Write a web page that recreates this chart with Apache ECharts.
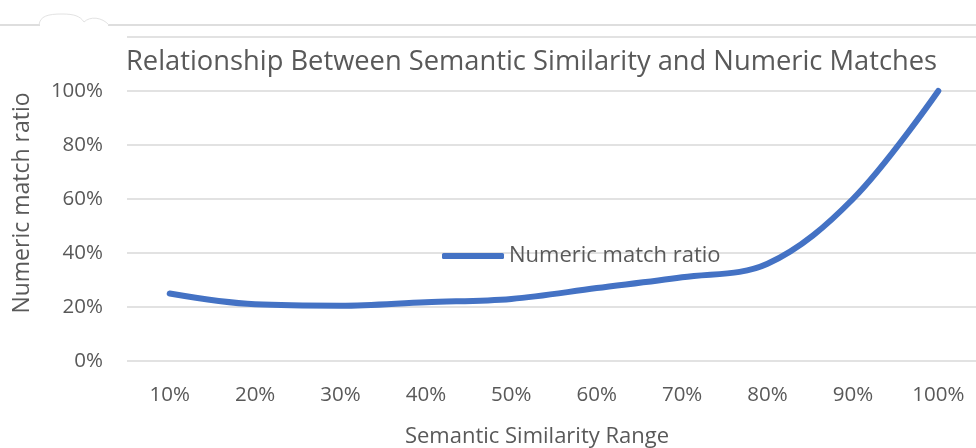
<!DOCTYPE html>
<html>
<head>
<meta charset="utf-8">
<style>
  html, body { margin: 0; padding: 0; background: #fff; }
  #chart { width: 976px; height: 448px; }
</style>
<script src="https://cdn.jsdelivr.net/npm/echarts@6/dist/echarts.min.js"></script>
</head>
<body>
<div id="chart"></div>
<script>
// Semantic similarity buckets and the share of numeric matches in each
const categories = ['10%', '20%', '30%', '40%', '50%', '60%', '70%', '80%', '90%', '100%'];
const matchRatio = [0.25, 0.21, 0.205, 0.218, 0.23, 0.27, 0.31, 0.36, 0.60, 1.00];
const seriesName = 'Numeric match ratio';
const chartTitle = 'Relationship Between Semantic Similarity and Numeric Matches';
const xAxisTitle = 'Semantic Similarity Range';
const yAxisTitle = 'Numeric match ratio';

const FONT = '"Open Sans", "Noto Sans", sans-serif';
const TEXT = '#595959';
const BLUE = '#4472C4';

const chart = echarts.init(document.getElementById('chart'), null, { renderer: 'canvas' });

chart.setOption({
  animation: false,
  backgroundColor: '#ffffff',
  title: {
    text: chartTitle,
    left: 121,
    top: 44,
    textStyle: { fontFamily: FONT, fontSize: 27.3, fontWeight: 'normal', color: TEXT }
  },
  legend: {
    data: [seriesName],
    left: 437,
    top: 240,
    itemWidth: 62,
    itemHeight: 6,
    icon: 'roundRect',
    textStyle: { fontFamily: FONT, fontSize: 22, color: TEXT }
  },
  grid: { left: 127, top: 37, width: 854, height: 324, outerBoundsMode: 'none', containLabel: false },
  xAxis: {
    type: 'category',
    data: categories,
    boundaryGap: true,
    axisLine: { show: false },
    axisTick: { show: false },
    axisLabel: { fontFamily: FONT, fontSize: 20.5, color: TEXT, margin: 24 },
    name: xAxisTitle,
    nameLocation: 'middle',
    nameGap: 65,
    nameTextStyle: { fontFamily: FONT, fontSize: 22, color: TEXT, padding: [0, 34, 0, 0] }
  },
  yAxis: {
    type: 'value',
    min: 0,
    max: 1.2,
    interval: 0.2,
    axisLine: { show: false },
    axisTick: { show: false },
    splitLine: { lineStyle: { color: '#d9d9d9', width: 1.5 } },
    axisLabel: {
      fontFamily: FONT, fontSize: 20.5, color: TEXT, margin: 24,
      formatter: function (v) { return v > 1.01 ? '' : Math.round(v * 100) + '%'; }
    },
    name: yAxisTitle,
    nameLocation: 'middle',
    nameGap: 93,
    nameRotate: 90,
    nameTextStyle: { fontFamily: FONT, fontSize: 23, color: TEXT, padding: [0, 8, 0, 0] }
  },
  series: [{
    name: seriesName,
    type: 'line',
    data: matchRatio,
    smooth: 0.35,
    showSymbol: false,
    symbol: 'none',
    lineStyle: { color: BLUE, width: 6, cap: 'round', join: 'round' },
    itemStyle: { color: BLUE }
  }],
  graphic: [
    { type: 'line', shape: { x1: 0, y1: 25, x2: 40, y2: 25 }, style: { stroke: '#bdbdbd', lineWidth: 1 } },
    { type: 'line', shape: { x1: 108, y1: 25, x2: 976, y2: 25 }, style: { stroke: '#bdbdbd', lineWidth: 1 } },
    { type: 'bezierCurve', shape: { x1: 39, y1: 25, cpx1: 40, cpy1: 16, cpx2: 48, cpy2: 14, x2: 62, y2: 14 }, style: { stroke: '#e3e3e3', fill: null, lineWidth: 1 } },
    { type: 'bezierCurve', shape: { x1: 62, y1: 14, cpx1: 74, cpy1: 14, cpx2: 80, cpy2: 16, x2: 84, y2: 22 }, style: { stroke: '#e3e3e3', fill: null, lineWidth: 1 } },
    { type: 'bezierCurve', shape: { x1: 84, y1: 22, cpx1: 90, cpy1: 16, cpx2: 102, cpy2: 17, x2: 109, y2: 25 }, style: { stroke: '#e3e3e3', fill: null, lineWidth: 1 } }
  ]
});
</script>
</body>
</html>
